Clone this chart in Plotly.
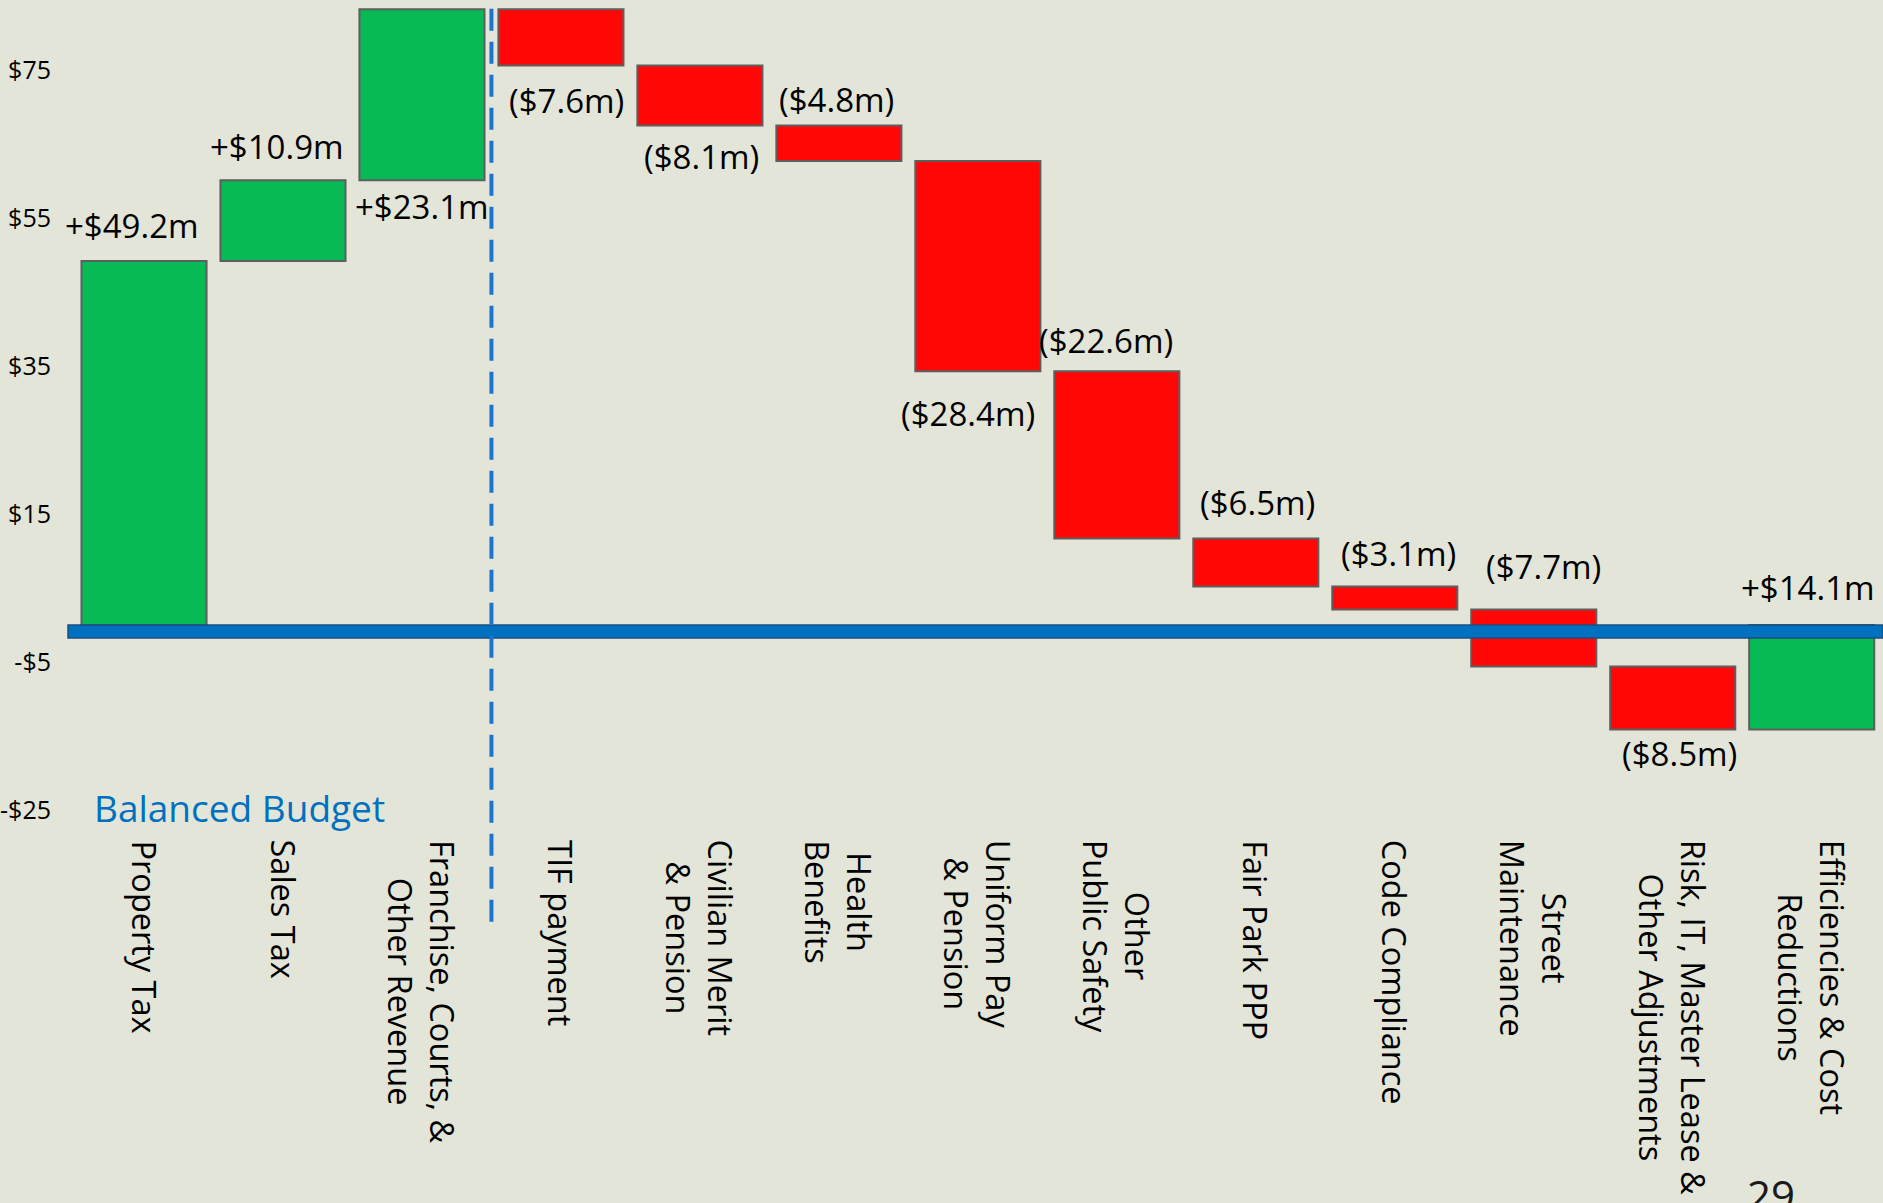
import numpy as np
import plotly.graph_objects as go

# ── data ───────────────────────────────────────────────
CATEGORIES = [
    "Property Tax", "Sales Tax", "Franchise, Courts, &<br>Other Revenue",
    "TIF payment", "Civilian Merit<br>& Pension", "Health<br>Benefits",
    "Uniform Pay<br>& Pension", "Other<br>Public Safety", "Fair Park PPP",
    "Code Compliance", "Street<br>Maintenance",
    "Risk, IT, Master Lease &<br>Other Adjustments",
    "Efficiencies & Cost<br>Reductions",
]
CHANGES = [49.2, 10.9, 23.1, -7.6, -8.1, -4.8, -28.4, -22.6, -6.5, -3.1, -7.7, -8.5, 14.1]
VALUE_LABELS = [
    "+$49.2m", "+$10.9m", "+$23.1m", "($7.6m)", "($8.1m)", "($4.8m)", "($28.4m)",
    "($22.6m)", "($6.5m)", "($3.1m)", "($7.7m)", "($8.5m)", "+$14.1m",
]
Y_TICKS = [75, 55, 35, 15, -5, -25]
Y_TICK_TEXT = ["$75", "$55", "$35", "$15", "-$5", "-$25"]

# label placement tweaks (side of bar, pixel offsets)
LABEL_SIDE = ["above", "above", "below", "below", "below", "above", "below",
              "above", "above", "above", "above", "below", "above"]
LABEL_DY = [35, 34, 26, 35, 31, 26, 42, 31, 36, 33, 43, 24, 38]
LABEL_DX = [-12, -6, 0, 6, 2, -2, -10, -11, 2, 4, 10, 7, -4]

BG = "#E3E5D9"
GREEN = "#07BA55"
RED = "#FF0707"
EDGE = "#5E5E5E"
BLUE = "#0070C0"
DASH_BLUE = "#1C74CC"
FONT = "Open Sans, sans-serif"

Y_TOP, Y_BOTTOM = 84.46, -78.1
X_RANGE = [-0.547, 12.513]

fig = go.Figure()

fig.add_trace(go.Waterfall(
    x=CATEGORIES, y=CHANGES, measure=["relative"] * len(CHANGES),
    increasing=dict(marker=dict(color=GREEN, line=dict(color=EDGE, width=2))),
    decreasing=dict(marker=dict(color=RED, line=dict(color=EDGE, width=2))),
    connector=dict(visible=False), textinfo="none", showlegend=False,
))

# ── value labels ───────────────────────────────────────
ends = np.cumsum(CHANGES)
starts = ends - np.array(CHANGES)
tops = np.maximum(starts, ends)
bottoms = np.minimum(starts, ends)
for i, lab in enumerate(VALUE_LABELS):
    above = LABEL_SIDE[i] == "above"
    fig.add_annotation(
        x=CATEGORIES[i], y=tops[i] if above else bottoms[i],
        text=lab, showarrow=False, yanchor="middle", xanchor="center",
        yshift=LABEL_DY[i] if above else -LABEL_DY[i], xshift=LABEL_DX[i],
        font=dict(family=FONT, size=33, color="black"),
    )

# ── category labels (rotated, top aligned) ─────────────
for cat in CATEGORIES:
    fig.add_annotation(
        x=cat, y=-28.78, text=cat, showarrow=False, textangle=90,
        yanchor="top", xanchor="center", align="center",
        font=dict(family=FONT, size=32.5, color="black"),
    )

# ── zero line & divider ───────────────────────────────
fig.add_shape(type="rect", xref="paper", x0=0, x1=1, y0=0, y1=-1.75,
              fillcolor=BLUE, line=dict(color="#1B4F7E", width=1.5), layer="above")
fig.add_shape(type="line", x0=2.5, x1=2.5, y0=-40.1, y1=Y_TOP,
              line=dict(color=DASH_BLUE, width=4, dash="22px,11px"), layer="above")

fig.add_annotation(x=-0.374, y=-24.6, text="Balanced Budget", showarrow=False,
                   xanchor="left", yanchor="middle",
                   font=dict(family=FONT, size=37, color=BLUE))
fig.add_annotation(x=11.71, y=-72.8, text="29", showarrow=False,
                   xanchor="center", yanchor="top",
                   font=dict(family=FONT, size=42, color="#1a1a1a"))

fig.update_layout(
    width=1883, height=1203,
    margin=dict(l=68, r=0, t=0, b=0),
    paper_bgcolor=BG, plot_bgcolor=BG,
    waterfallgap=0.1,
    font=dict(family=FONT, color="black"),
    xaxis=dict(range=X_RANGE, showticklabels=False, showgrid=False,
               zeroline=False, showline=False, ticks=""),
    yaxis=dict(range=[Y_BOTTOM, Y_TOP], tickvals=Y_TICKS, ticktext=Y_TICK_TEXT,
               showgrid=False, zeroline=False, showline=False, ticks="",
               ticklabelstandoff=16, tickfont=dict(family=FONT, size=25, color="black")),
)

fig.write_html("out.html", config={"displayModeBar": False},
               post_script="document.body.style.margin='0';")
